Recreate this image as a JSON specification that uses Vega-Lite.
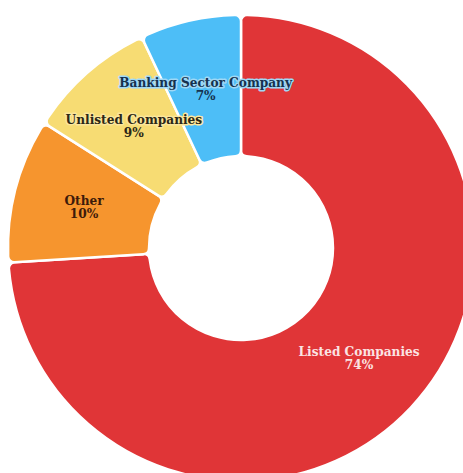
{
  "$schema": "https://vega.github.io/schema/vega-lite/v6.json",
  "width": 482,
  "height": 496,
  "autosize": {"type": "none"},
  "padding": 0,
  "background": "white",
  "view": {"stroke": null},
  "data": {"values": [
    {"category": "Listed Companies", "value": 74, "pct": "74%", "rank": 1},
    {"category": "Other", "value": 10, "pct": "10%", "rank": 2},
    {"category": "Unlisted Companies", "value": 9, "pct": "9%", "rank": 3},
    {"category": "Banking Sector Company", "value": 7, "pct": "7%", "rank": 4}
  ]},
  "encoding": {
    "theta": {"field": "value", "type": "quantitative", "stack": true},
    "order": {"field": "rank", "type": "quantitative"}
  },
  "layer": [
    {
      "mark": {"type": "arc", "outerRadius": 233, "innerRadius": 92, "cornerRadius": 6, "stroke": "white", "strokeWidth": 2.5},
      "encoding": {
        "color": {"field": "category", "type": "nominal", "legend": null,
          "scale": {"domain": ["Listed Companies", "Other", "Unlisted Companies", "Banking Sector Company"],
                    "range": ["#e03537", "#f6952e", "#f7dc73", "#4dbef7"]}}
      }
    },
    {
      "mark": {"type": "text", "radius": 162, "dy": -6.5, "font": "DejaVu Serif Condensed", "fontWeight": "bold", "fontSize": 13.5, "strokeWidth": 3, "strokeJoin": "round", "fillOpacity": 0},
      "encoding": {
        "text": {"field": "category", "type": "nominal"},
        "stroke": {"field": "category", "type": "nominal", "legend": null,
          "scale": {"domain": ["Listed Companies", "Other", "Unlisted Companies", "Banking Sector Company"],
                    "range": ["rgba(0,0,0,0)", "rgba(0,0,0,0)", "#fbe69a", "#9fd8f5"]}}
      }
    },
    {
      "mark": {"type": "text", "radius": 162, "dy": -6.5, "font": "DejaVu Serif Condensed", "fontWeight": "bold", "fontSize": 13.5},
      "encoding": {
        "text": {"field": "category", "type": "nominal"},
        "fill": {"field": "category", "type": "nominal", "legend": null,
          "scale": {"domain": ["Listed Companies", "Other", "Unlisted Companies", "Banking Sector Company"],
                    "range": ["#fbe3e3", "#3d1a0a", "#2b2716", "#15324f"]}}
      }
    },
    {
      "mark": {"type": "text", "radius": 162, "dy": 6.5, "font": "DejaVu Serif Condensed", "fontWeight": "bold", "fontSize": 13.5},
      "encoding": {
        "text": {"field": "pct", "type": "nominal"},
        "fill": {"field": "category", "type": "nominal", "legend": null}
      }
    }
  ]
}
